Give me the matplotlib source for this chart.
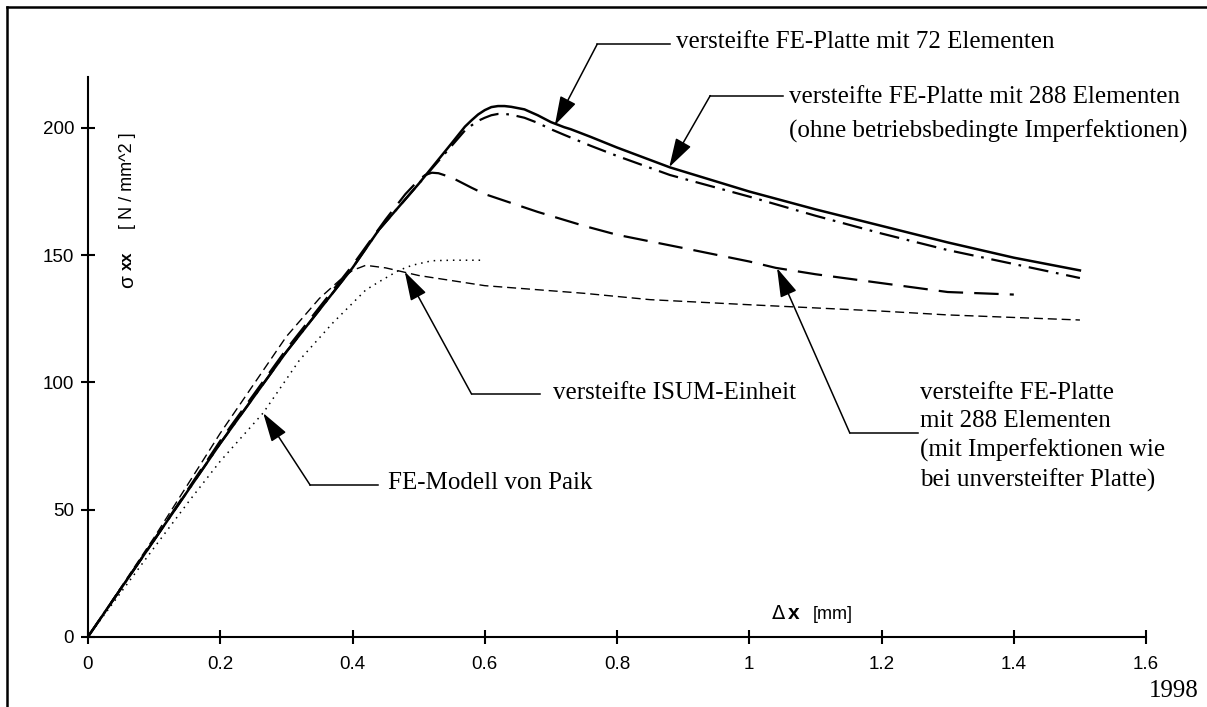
import matplotlib.pyplot as plt
from matplotlib.lines import Line2D

# displacement [mm] vs. stress [N/mm^2]
x_fe72 = [0, 0.1, 0.2, 0.3, 0.4, 0.44, 0.5, 0.55, 0.57, 0.58, 0.59, 0.6, 0.61, 0.62, 0.63, 0.64,
          0.66, 0.68, 0.7, 0.72, 0.73, 0.76, 0.8, 0.88, 1.0, 1.1, 1.2, 1.3, 1.4, 1.5]
y_fe72 = [0, 38, 76, 112, 145, 160, 178, 194, 200.5, 203, 205.3, 207, 208.2, 208.6, 208.6, 208.3,
          207.3, 205, 202.3, 200.3, 199.5, 196.5, 192.3, 184.5, 175, 168, 161.5, 155, 149, 144]

x_fe288 = [0, 0.1, 0.2, 0.3, 0.4, 0.44, 0.5, 0.55, 0.57, 0.58, 0.59, 0.6, 0.61, 0.62, 0.63, 0.64,
           0.66, 0.68, 0.7, 0.72, 0.76, 0.8, 0.88, 1.0, 1.1, 1.2, 1.3, 1.4, 1.5]
y_fe288 = [0, 38, 76, 112, 145, 160, 178, 193, 199, 201, 202.8, 204, 205, 205.5, 205.5, 205.2,
           204, 202, 199.5, 197.3, 193, 189, 181.5, 173, 165.5, 158.5, 152, 146.5, 141]

x_fe288_imp = [0, 0.1, 0.2, 0.3, 0.4, 0.45, 0.48, 0.5, 0.51, 0.52, 0.53, 0.55, 0.58, 0.6, 0.68,
               0.75, 0.8, 0.9, 1.0, 1.04, 1.1, 1.2, 1.3, 1.4]
y_fe288_imp = [0, 38, 77, 113, 146, 164, 174, 179.5, 181.5, 182.4, 182.2, 180.5, 176.5, 174, 167,
               161.5, 158, 152.8, 147.5, 145, 142.5, 139, 135.5, 134.5]

x_isum = [0, 0.1, 0.2, 0.25, 0.3, 0.35, 0.38, 0.4, 0.42, 0.45, 0.5, 0.6, 0.75, 0.85, 1.0, 1.08,
          1.2, 1.3, 1.4, 1.5]
y_isum = [0, 39, 80, 99, 118, 133, 140, 144, 146, 145, 142, 138, 135, 132.5, 130.5, 129.5,
          128, 126.5, 125.5, 124.5]

x_paik = [0, 0.1, 0.154, 0.2, 0.265, 0.32, 0.37, 0.42, 0.44, 0.47, 0.49, 0.52, 0.55, 0.6]
y_paik = [0, 35, 53.7, 69, 88, 108.8, 123.3, 136.3, 139.5, 144, 146, 147.8, 148, 148]

x_ticks = [0, 0.2, 0.4, 0.6, 0.8, 1.0, 1.2, 1.4, 1.6]
x_ticklabels = ["0", "0.2", "0.4", "0.6", "0.8", "1", "1.2", "1.4", "1.6"]
y_ticks = [0, 50, 100, 150, 200]

serif = "Liberation Serif"
sans = "Liberation Sans"

fig = plt.figure(figsize=(12.07, 7.07), dpi=100)
ax = fig.add_axes([0.0729, 0.0994, 0.8766, 0.7916])

ax.plot(x_fe72, y_fe72, color="k", lw=1.8, solid_joinstyle="round")
ax.plot(x_fe288, y_fe288, color="k", lw=1.6, linestyle=(0, (9, 3.5, 1.2, 3.5)))
ax.plot(x_fe288_imp, y_fe288_imp, color="k", lw=1.6, linestyle=(0, (11, 5)))
ax.plot(x_isum, y_isum, color="k", lw=1.0, linestyle=(0, (6.5, 3.5)))
ax.plot(x_paik, y_paik, color="k", lw=1.1, linestyle=(0, (1, 3.2)))

ax.set_xlim(0, 1.6)
ax.set_ylim(0, 220)
ax.set_xticks(x_ticks)
ax.set_xticklabels(x_ticklabels)
ax.set_yticks(y_ticks)
for s in ["top", "right"]:
    ax.spines[s].set_visible(False)
for s in ["left", "bottom"]:
    ax.spines[s].set_linewidth(1.5)
ax.tick_params(direction="inout", length=10, width=1.5, labelsize=13.5)
ax.tick_params(axis="x", pad=9)
ax.tick_params(axis="y", pad=5)
for lab in ax.get_xticklabels() + ax.get_yticklabels():
    lab.set_fontfamily(sans)

# axis labels
ax.text(0.037, 0.635, "σ", transform=ax.transAxes, rotation=90, fontsize=15,
        fontfamily=sans, ha="center", va="center")
ax.text(0.037, 0.672, "xx", transform=ax.transAxes, rotation=90, fontsize=12,
        fontfamily=sans, fontweight="bold", ha="center", va="center")
ax.text(0.037, 0.815, "[ N / mm^2 ]", transform=ax.transAxes, rotation=90, fontsize=13,
        fontfamily=sans, ha="center", va="center")
ax.text(1.034, 9.3, "Δ", fontsize=14, fontfamily="DejaVu Sans", ha="left", va="center")
ax.text(1.0586, 9.3, "x", fontsize=15, fontfamily=sans, fontweight="bold", ha="left", va="center")
ax.text(1.0964, 8.8, "[mm]", fontsize=13, fontfamily=sans, ha="left", va="center")

# annotations: (tip, elbow, end of horizontal leader, text position, text, line spacing)
notes = [
    ((0.706, 201.1), (0.770, 232.9), 0.880, (0.889, 233.8),
     "versteifte FE-Platte mit 72 Elementen", 1.2),
    ((0.879, 184.6), (0.941, 212.7), 1.051, (1.060, 205.3),
     "versteifte FE-Platte mit 288 Elementen\n(ohne betriebsbedingte Imperfektionen)", 1.65),
    ((0.479, 143.5), (0.580, 95.4), 0.684, (0.703, 95.8),
     "versteifte ISUM-Einheit", 1.2),
    ((0.265, 87.9), (0.336, 59.6), 0.4386, (0.4537, 60.4),
     "FE-Modell von Paik", 1.2),
    ((1.042, 144.9), (1.152, 80.1), 1.255, (1.258, 78.6),
     "versteifte FE-Platte\nmit 288 Elementen\n(mit Imperfektionen wie\nbei unversteifter Platte)", 1.37),
]
for tip, elbow, xend, tpos, txt, ls in notes:
    ax.plot([elbow[0], xend], [elbow[1], elbow[1]], color="k", lw=1.1, clip_on=False)
    ax.annotate("", xy=tip, xytext=elbow, annotation_clip=False,
                arrowprops=dict(arrowstyle="-|>,head_length=0.9,head_width=0.27",
                                mutation_scale=20, color="k", lw=1.1,
                                shrinkA=0, shrinkB=0))
    ax.text(tpos[0], tpos[1], txt, fontsize=18, fontfamily=serif, ha="left",
            va="center", linespacing=ls, clip_on=False)

fig.text(0.993, 0.023, "1998", fontsize=18, fontfamily=serif, ha="right", va="center")

# frame around the figure (top and left edges only)
fig.add_artist(Line2D([0.0058, 1.0], [0.9905, 0.9905], color="k", lw=1.8, transform=fig.transFigure))
fig.add_artist(Line2D([0.0058, 0.0058], [0.0, 0.9905], color="k", lw=1.8, transform=fig.transFigure))

fig.savefig("out.png", dpi=100)
